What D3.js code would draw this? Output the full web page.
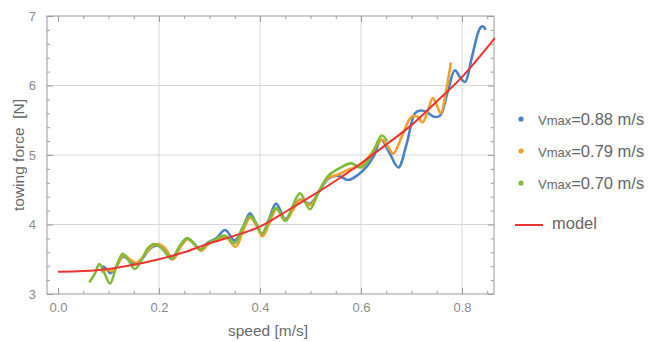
<!DOCTYPE html>
<html>
<head>
<meta charset="utf-8">
<script src="https://cdn.jsdelivr.net/npm/d3@7"></script>
<style>
  body { margin: 0; background: #fff; }
  svg { display: block; font-family: "Liberation Sans", Arial, sans-serif; }
</style>
</head>
<body>
<div id="chartArea"></div>
<script>
// speed [m/s] / towing force [N]
const blueSpeed = [0.088,0.096,0.104,0.116,0.129,0.141,0.153,0.168,0.182,0.196,0.210,0.226,0.241,0.256,0.269,0.282,0.297,0.313,0.331,0.350,0.366,0.380,0.392,0.404,0.418,0.432,0.450,0.465,0.479,0.499,0.517,0.535,0.555,0.575,0.595,0.612,0.625,0.640,0.655,0.674,0.690,0.707,0.718,0.730,0.745,0.757,0.772,0.786,0.796,0.806,0.820,0.836,0.842,0.847];
const blueForce = [3.40,3.36,3.30,3.40,3.54,3.49,3.43,3.52,3.65,3.70,3.65,3.50,3.68,3.80,3.72,3.64,3.74,3.80,3.92,3.77,3.95,4.16,4.02,3.85,4.08,4.30,4.08,4.22,4.36,4.30,4.47,4.66,4.70,4.64,4.72,4.84,4.98,5.22,5.05,4.82,5.15,5.60,5.64,5.62,5.55,5.57,5.92,6.22,6.12,6.05,6.42,6.83,6.85,6.80];

const orangeSpeed = [0.085,0.097,0.108,0.120,0.130,0.142,0.155,0.170,0.185,0.198,0.212,0.228,0.243,0.257,0.270,0.283,0.298,0.315,0.332,0.352,0.367,0.381,0.393,0.405,0.420,0.433,0.451,0.466,0.480,0.500,0.517,0.535,0.555,0.578,0.600,0.620,0.642,0.655,0.664,0.680,0.700,0.712,0.722,0.733,0.742,0.750,0.758,0.768,0.778];
const orangeForce = [3.32,3.35,3.33,3.45,3.56,3.50,3.45,3.55,3.68,3.72,3.66,3.50,3.68,3.79,3.72,3.62,3.72,3.78,3.82,3.68,3.92,4.10,3.98,3.83,4.05,4.22,4.06,4.22,4.36,4.28,4.48,4.67,4.72,4.80,4.85,5.02,5.22,5.10,5.02,5.25,5.55,5.55,5.47,5.65,5.82,5.72,5.60,5.90,6.33];

const greenSpeed = [0.062,0.072,0.082,0.092,0.103,0.115,0.128,0.140,0.152,0.165,0.178,0.190,0.205,0.225,0.240,0.255,0.268,0.281,0.295,0.310,0.330,0.350,0.365,0.380,0.392,0.404,0.418,0.432,0.450,0.465,0.479,0.499,0.515,0.535,0.555,0.580,0.600,0.620,0.641,0.652];
const greenForce = [3.17,3.28,3.43,3.30,3.15,3.38,3.58,3.48,3.36,3.48,3.66,3.72,3.66,3.51,3.68,3.80,3.74,3.64,3.72,3.78,3.84,3.73,3.95,4.12,4.02,3.87,4.07,4.24,4.05,4.27,4.45,4.22,4.45,4.70,4.80,4.88,4.82,4.98,5.28,5.20];

const modelSpeed = [0.0,0.05,0.1,0.15,0.2,0.25,0.3,0.35,0.4,0.45,0.5,0.55,0.6,0.65,0.7,0.75,0.8,0.865];
const modelForce = [3.32,3.33,3.36,3.42,3.50,3.60,3.73,3.84,3.97,4.18,4.40,4.63,4.88,5.15,5.43,5.77,6.12,6.68];

const xTicks = [0.0, 0.2, 0.4, 0.6, 0.8];
const yTicks = [3, 4, 5, 6, 7];
const legendLabels = ["0.88 m/s", "0.79 m/s", "0.70 m/s"];
const colors = ["#4a82c4", "#f2a02c", "#7fba3a"];
const modelColor = "#ea3432";

const W = 653, H = 342;
const pLeft = 47, pRight = 494, pTop = 16, pBottom = 294;

const svg = d3.select("#chartArea").append("svg")
  .attr("width", W)
  .attr("height", H);

svg.append("rect").attr("width", W).attr("height", H).attr("fill", "#fff");

const x = d3.scaleLinear().domain([-0.0218, 0.8634]).range([pLeft, pRight]);
const y = d3.scaleLinear().domain([3, 7]).range([pBottom, pTop]);

// grid
svg.append("g").selectAll("line").data(xTicks.filter(d => d > 0)).enter().append("line")
  .attr("x1", d => x(d)).attr("x2", d => x(d))
  .attr("y1", pTop).attr("y2", pBottom)
  .attr("stroke", "#d6d6d6").attr("stroke-width", 1);
svg.append("g").selectAll("line").data(yTicks.filter(d => d > 3 && d < 7)).enter().append("line")
  .attr("x1", pLeft).attr("x2", pRight)
  .attr("y1", d => y(d)).attr("y2", d => y(d))
  .attr("stroke", "#d6d6d6").attr("stroke-width", 1);

// frame + ticks on all sides, via d3 axes
const xMinor = d3.range(0.05, 0.86, 0.05).filter(d => Math.abs(d * 5 - Math.round(d * 5)) > 0.01);
const yMinor = d3.range(3.2, 7, 0.2).filter(d => Math.abs(d - Math.round(d)) > 0.01);

function tickStyle(g) {
  g.select(".domain").remove();
  g.selectAll("line").attr("stroke", "#9a9a9a");
  g.selectAll("text").attr("fill", "#8a8a8a").attr("font-size", 13);
}

svg.append("g").attr("transform", `translate(0,${pBottom})`)
  .call(d3.axisBottom(x).tickValues(xTicks).tickSize(-6).tickPadding(9).tickFormat(d3.format(".1f")))
  .call(tickStyle);
svg.append("g").attr("transform", `translate(0,${pBottom})`)
  .call(d3.axisBottom(x).tickValues(xMinor).tickSize(-3).tickFormat(""))
  .call(tickStyle);
svg.append("g").attr("transform", `translate(0,${pTop})`)
  .call(d3.axisTop(x).tickValues(xTicks).tickSize(-6).tickFormat(""))
  .call(tickStyle);
svg.append("g").attr("transform", `translate(0,${pTop})`)
  .call(d3.axisTop(x).tickValues(xMinor).tickSize(-3).tickFormat(""))
  .call(tickStyle);
svg.append("g").attr("transform", `translate(${pLeft},0)`)
  .call(d3.axisLeft(y).tickValues(yTicks).tickSize(-6).tickPadding(11).tickFormat(d3.format("d")))
  .call(tickStyle);
svg.append("g").attr("transform", `translate(${pLeft},0)`)
  .call(d3.axisLeft(y).tickValues(yMinor).tickSize(-3).tickFormat(""))
  .call(tickStyle);
svg.append("g").attr("transform", `translate(${pRight},0)`)
  .call(d3.axisRight(y).tickValues(yTicks).tickSize(-6).tickFormat(""))
  .call(tickStyle);
svg.append("g").attr("transform", `translate(${pRight},0)`)
  .call(d3.axisRight(y).tickValues(yMinor).tickSize(-3).tickFormat(""))
  .call(tickStyle);

svg.append("rect")
  .attr("x", pLeft).attr("y", pTop)
  .attr("width", pRight - pLeft).attr("height", pBottom - pTop)
  .attr("fill", "none").attr("stroke", "#9a9a9a").attr("stroke-width", 1);

// series
const line = d3.line()
  .x(d => x(d[0])).y(d => y(d[1]))
  .curve(d3.curveCatmullRom.alpha(0.5));

const series = [
  d3.zip(blueSpeed, blueForce),
  d3.zip(orangeSpeed, orangeForce),
  d3.zip(greenSpeed, greenForce)
];

svg.append("g").selectAll("path").data(series).enter().append("path")
  .attr("d", line)
  .attr("fill", "none")
  .attr("stroke", (d, i) => colors[i])
  .attr("stroke-width", 2.6)
  .attr("stroke-linejoin", "round");

svg.append("path")
  .attr("d", line(d3.zip(modelSpeed, modelForce)))
  .attr("fill", "none")
  .attr("stroke", modelColor)
  .attr("stroke-width", 2);

// axis labels
svg.append("text")
  .attr("x", 268).attr("y", 336)
  .attr("text-anchor", "middle")
  .attr("font-size", 15.5).attr("fill", "#6a6a6a")
  .text("speed [m/s]");
svg.append("text")
  .attr("transform", "translate(24,155) rotate(-90)")
  .attr("text-anchor", "middle")
  .attr("font-size", 15.5).attr("fill", "#6a6a6a")
  .style("white-space", "pre")
  .text("towing force  [N]");

// legend
const legendY = [119, 151, 183];
const leg = svg.append("g");
legendLabels.forEach((lab, i) => {
  leg.append("circle")
    .attr("cx", 521).attr("cy", legendY[i]).attr("r", 2.6)
    .attr("fill", colors[i]);
  const t = leg.append("text")
    .attr("x", 538).attr("y", legendY[i] + 5.5)
    .attr("fill", "#666").attr("font-size", 16.5);
  t.append("tspan").attr("font-size", 13).text("Vmax");
  t.append("tspan").text("=" + lab);
});
leg.append("line")
  .attr("x1", 515).attr("x2", 543)
  .attr("y1", 225).attr("y2", 225)
  .attr("stroke", modelColor).attr("stroke-width", 2);
leg.append("text")
  .attr("x", 552).attr("y", 229)
  .attr("fill", "#666").attr("font-size", 16.5)
  .text("model");
</script>
</body>
</html>
